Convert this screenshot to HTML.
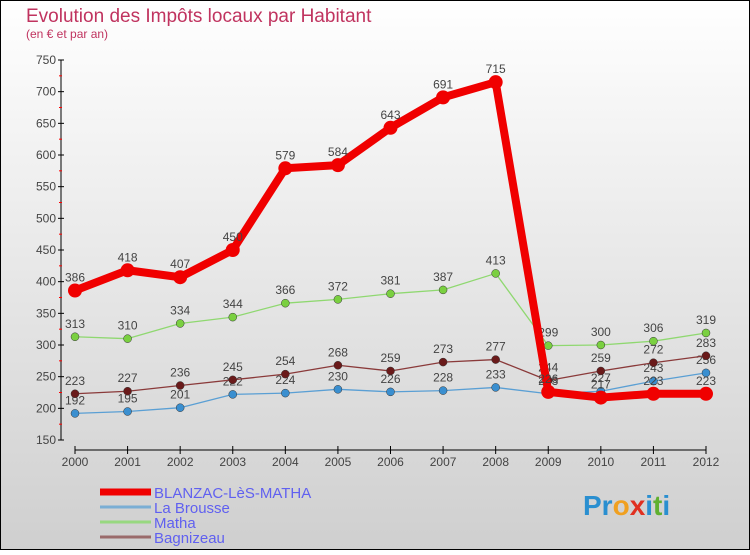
<!DOCTYPE html>
<html><head><meta charset="utf-8"><style>
html,body{margin:0;padding:0}
body{width:750px;height:550px;overflow:hidden;font-family:"Liberation Sans",sans-serif}
</style></head><body>
<svg id="chart" width="750" height="550" xmlns="http://www.w3.org/2000/svg">
<defs><linearGradient id="bg" x1="0" y1="0" x2="0" y2="1"><stop offset="0" stop-color="#ffffff"/><stop offset="1" stop-color="#cfcfcf"/></linearGradient></defs>
<rect x="0" y="0" width="750" height="550" fill="url(#bg)" stroke="#000" stroke-width="2"/>
<text x="26" y="22" font-size="19" fill="#c0335f">Evolution des Impôts locaux par Habitant</text>
<text x="26" y="38" font-size="12" fill="#c0335f">(en € et par an)</text>
<g id="axes"></g>
<g id="series"></g>
<g id="legend"></g>
<text x="583" y="515" font-size="28" font-weight="bold" fill="#2a8fd0">Pr<tspan fill="#f0a020">o</tspan><tspan fill="#e03020">x</tspan><tspan fill="#2a8fd0">i</tspan><tspan fill="#60b030">t</tspan>i</text>
</svg>
<script>
const years=[2000,2001,2002,2003,2004,2005,2006,2007,2008,2009,2010,2011,2012];
const blanzac=[386,418,407,450,579,584,643,691,715,226,217,223,223];
const brousse=[192,195,201,222,224,230,226,228,233,223,227,243,256];
const matha=[313,310,334,344,366,372,381,387,413,299,300,306,319];
const bagnizeau=[223,227,236,245,254,268,259,273,277,244,259,272,283];
const yTicks=[150,200,250,300,350,400,450,500,550,600,650,700,750];
const seriesNames=["BLANZAC-LèS-MATHA","La Brousse","Matha","Bagnizeau"];
const NS="http://www.w3.org/2000/svg";
function X(i){return 75+i*(706-75)/(years.length-1);}
function Y(v){return 440-(v-150)*(380/600);}
function mk(tag,attrs,parent,text){const e=document.createElementNS(NS,tag);for(const k in attrs)e.setAttribute(k,attrs[k]);if(text!==undefined)e.textContent=text;parent.appendChild(e);return e;}
const ax=document.getElementById('axes');
let l=mk('line',{x1:61,y1:Y(750),x2:61,y2:Y(150),stroke:'#000','stroke-width':1},ax);


yTicks.forEach((t,i)=>{
 let tk=mk('line',{x1:58,y1:Y(t),x2:64,y2:Y(t),stroke:'#000'},ax);
 
 
 let tx=mk('text',{x:56,y:Y(t)+4,'font-size':12,'text-anchor':'end',fill:'#444'},ax,String(t));
 
 
 if(i<yTicks.length-1){
  let m=mk('line',{x1:59,y1:Y(t+25),x2:62,y2:Y(t+25),stroke:'#f00'},ax);
  
  
 }
});
let xl=mk('line',{x1:X(0),y1:450,x2:X(12),y2:450,stroke:'#000'},ax);


years.forEach((y,i)=>{
 let tk=mk('line',{x1:X(i),y1:446,x2:X(i),y2:454,stroke:'#000'},ax);
 
 
 let tx=mk('text',{x:X(i),y:466,'font-size':12,'text-anchor':'middle',fill:'#444'},ax,String(y));
 
 
});
const sg=document.getElementById('series');
function draw(vals,color,w,r,name,dark){
 const g=mk('g',{},sg);
 
 
 let p=mk('polyline',{points:vals.map((v,i)=>X(i)+','+Y(v)).join(' '),fill:'none',stroke:color,'stroke-width':w,'stroke-linejoin':'round'},g);
 
 
 vals.forEach((v,i)=>{
  let c=mk('circle',{cx:X(i),cy:Y(v),r:r,fill:dark||color,stroke:dark?'#333':'none','stroke-width':0.5},g);
  
  
  let t=mk('text',{x:X(i),y:Y(v)-9,'font-size':12,'text-anchor':'middle',fill:'#444'},g,String(v));
  
  
 });
}
draw(brousse,'#5a9fd4',1.3,4,'la-brousse','#3a8fd0');
draw(bagnizeau,'#8a3a3a',1.3,4,'bagnizeau','#6a1a1a');
draw(matha,'#8fd870',1.3,4,'matha','#7ad040');
draw(blanzac,'#f00000',8,7,'blanzac');
const lg=document.getElementById('legend');
const lc=['#f00000','#7aaed4','#98d880','#9a6a6a'],lw=[7,3,3,3],ly=[492,507,522,537];
seriesNames.forEach((n,i)=>{
 let a=mk('line',{x1:100,y1:ly[i],x2:151,y2:ly[i],stroke:lc[i],'stroke-width':lw[i]},lg);
 
 
 let t=mk('text',{x:154,y:ly[i]+6,'font-size':15,fill:'#6060f0'},lg,n);
 
 
});
</script>
</body></html>
